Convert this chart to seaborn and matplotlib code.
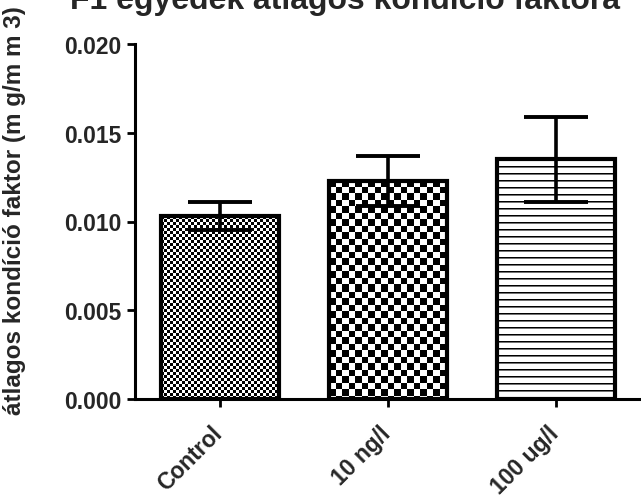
import numpy as np
import pandas as pd
import matplotlib
matplotlib.use("Agg")
import matplotlib.pyplot as plt
import matplotlib.transforms as mtransforms
import seaborn as sns

# Group means and standard errors of the condition factor
groups = ["Control", "10 ng/l", "100 ug/l"]
means = [0.0103, 0.0123, 0.0135]
sem = [0.0008, 0.0014, 0.0024]
y_ticks = [0.000, 0.005, 0.010, 0.015, 0.020]
y_tick_labels = ["0.000", "0.005", "0.010", "0.015", "0.020"]

title = "F1 egyedek átlagos kondíció faktora"
ylabel = "átlagos kondíció faktor (m g/m m 3)"

sns.set_theme(style="white")
plt.rcParams["font.family"] = ["Liberation Sans", "DejaVu Sans"]
plt.rcParams["font.weight"] = "bold"

df = pd.DataFrame({"group": groups, "mean": means})

fig = plt.figure(figsize=(6.41, 5.02), dpi=100)
ax = fig.add_axes([135 / 641, 1 - 400 / 502, 1 - 135 / 641, 355 / 502])

sns.barplot(data=df, x="group", y="mean", order=groups, color="white",
            width=0.70, errorbar=None, edgecolor="black", linewidth=3.0,
            ax=ax, zorder=2)

ax.set_xlim(-0.506, 2.506)
ax.set_ylim(0, 0.020)

# error bars (mean ± SEM)
ax.errorbar(range(len(groups)), means, yerr=sem, fmt="none", ecolor="black",
            elinewidth=2.6, capsize=23, capthick=2.8, zorder=5)


def checker(ny, nx, cell):
    yy, xx = np.mgrid[0:ny, 0:nx]
    return ((np.floor(xx / cell) + np.floor(yy / cell)) % 2).astype(float)


def stripes(ny, nx, period):
    yy = np.mgrid[0:ny, 0:nx][0]
    r = yy % period
    img = np.ones((ny, nx))
    img[r == 0] = 0.0
    img[r == 1] = 0.45
    return img


# fill patterns drawn inside each bar
fig.canvas.draw()
for i, patch in enumerate(ax.patches[:len(groups)]):
    x0, y0 = patch.get_x(), patch.get_y()
    w, h = patch.get_width(), patch.get_height()
    (px0, py0), (px1, py1) = ax.transData.transform([(x0, y0), (x0 + w, y0 + h)])
    nx = max(int(round(px1 - px0)), 1)
    ny = max(int(round(py1 - py0)), 1)
    if i == 0:
        img = checker(ny, nx, 3)
    elif i == 1:
        img = checker(ny, nx, 6.5)
    else:
        img = stripes(ny, nx, 7)
    im = ax.imshow(img, cmap="gray", vmin=0, vmax=1, interpolation="nearest",
                   extent=(x0, x0 + w, y0, y0 + h), origin="upper",
                   aspect="auto", zorder=1.5)
    im.set_clip_path(patch)
    patch.set_facecolor("none")

ax.set_xlim(-0.506, 2.506)
ax.set_ylim(0, 0.020)

ax.set_yticks(y_ticks)
ax.set_yticklabels(y_tick_labels, fontsize=16.5, fontweight="bold")
ax.set_xticks(range(len(groups)))
ax.set_xticklabels(groups, rotation=45, ha="right", rotation_mode="anchor",
                   fontsize=16.5, fontweight="bold")
ax.tick_params(axis="both", which="major", length=6, width=2.0,
               color="black", bottom=True, left=True, pad=4)
ax.tick_params(axis="x", pad=10)

# nudge the rotated category labels slightly left
shift = mtransforms.ScaledTranslation(-9 / 100, 0, fig.dpi_scale_trans)
for lbl in ax.get_xticklabels():
    lbl.set_transform(lbl.get_transform() + shift)

for side in ["top", "right"]:
    ax.spines[side].set_visible(False)
for side in ["left", "bottom"]:
    ax.spines[side].set_linewidth(2.2)
    ax.spines[side].set_color("black")

ax.set_xlabel("")
ax.set_ylabel(ylabel, fontsize=17.5, fontweight="bold")
ax.yaxis.set_label_coords(-0.215, 0.535)

fig.text(70 / 641, 1 - 9 / 502, title, fontsize=23, fontweight="bold",
         ha="left", va="baseline")

fig.savefig("out.png", dpi=100)
